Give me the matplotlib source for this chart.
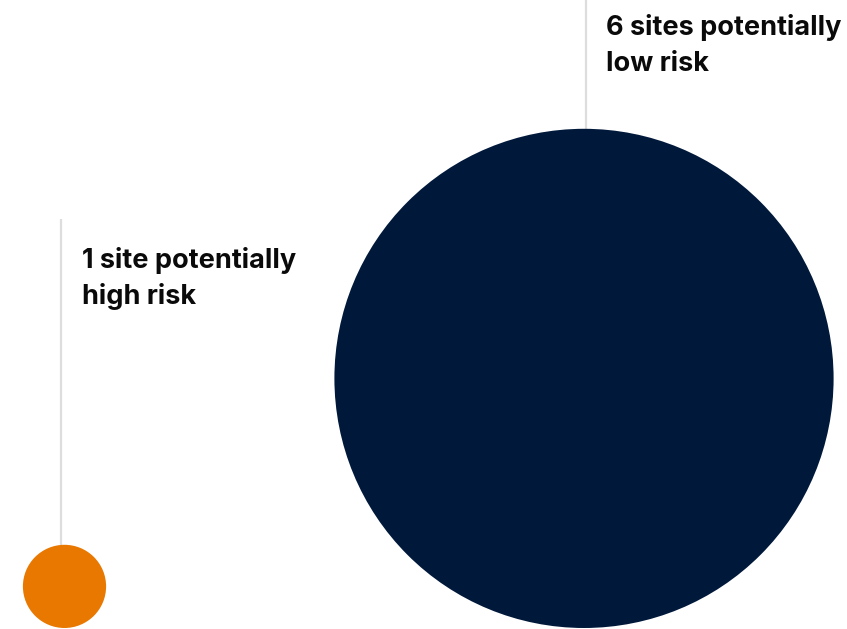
import matplotlib
matplotlib.use("Agg")
import matplotlib.pyplot as plt
from matplotlib.patches import Circle

# data
categories = ["1 site potentially\nhigh risk", "6 sites potentially\nlow risk"]
site_counts = [1, 6]
colors = ["#E87800", "#00183A"]

W, H, DPI = 847, 629, 100
PX = 41.6  # pixels per unit of radius (radius proportional to count)

fig = plt.figure(figsize=(W / DPI, H / DPI), dpi=DPI)
ax = fig.add_axes([0, 0, 1, 1])
ax.set_xlim(0, W / PX)
ax.set_ylim(0, H / PX)
ax.set_aspect("equal")
ax.axis("off")

centers_x_px = [64.5, 584]
line_x_px = [61, 586]
text_x_px = [81.5, 606.5]
line_top_px = [219, 0]       # from top of figure
text_base_px = [268, 35]     # first-line baseline from top
bottom_gap = 1.0 / PX

for cat, n, col, cx_px, lx, tx, lt, tb in zip(categories, site_counts, colors,
                                               centers_x_px, line_x_px, text_x_px,
                                               line_top_px, text_base_px):
    cx = cx_px / PX
    r = n
    cy = r + bottom_gap
    # connector line
    ax.plot([lx / PX] * 2, [cy + r, (H - lt) / PX], color="#DDDDDD", lw=1.6,
            solid_capstyle="butt", zorder=1)
    ax.add_patch(Circle((cx, cy), r, facecolor=col, edgecolor="none", zorder=2))
    lines = cat.split("\n")
    for i, ln in enumerate(lines):
        ax.text(tx / PX, (H - tb - i * 36) / PX, ln,
                fontsize=19.5, fontweight="bold", family="Inter",
                color="#0A0A0A", va="baseline", ha="left")

fig.savefig("out.png", dpi=DPI)
